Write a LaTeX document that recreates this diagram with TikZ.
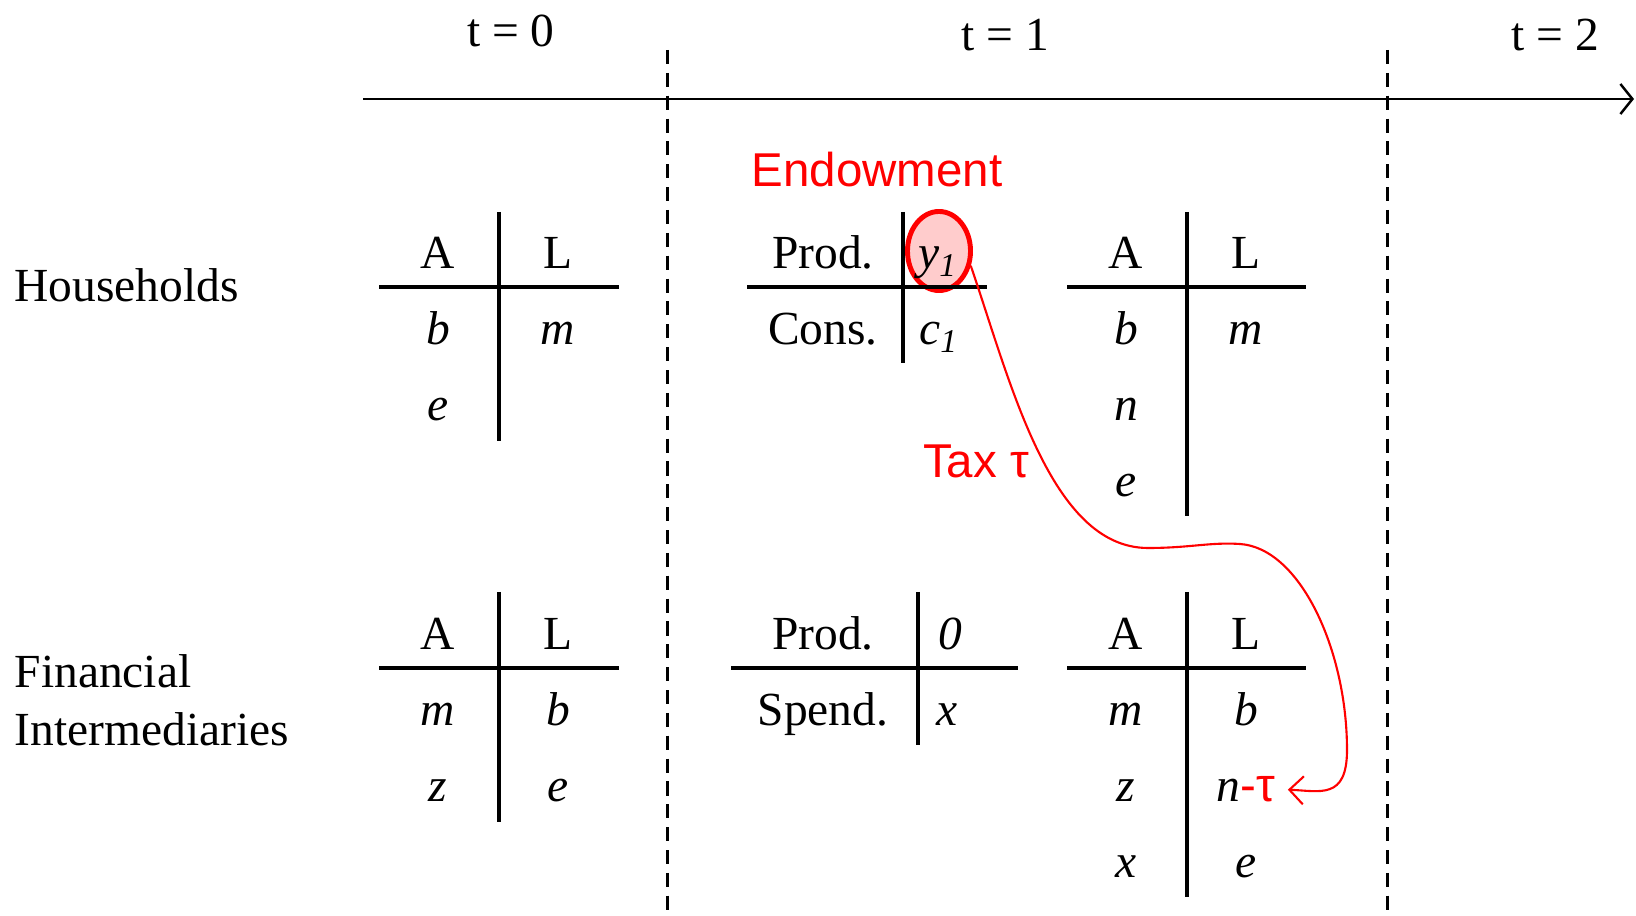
\documentclass[tikz,border=0pt]{standalone}
\usepackage{fontspec}
\setmainfont{Liberation Serif}
\newfontfamily\arialfont{Liberation Sans}
\usepackage{tikz}
\usetikzlibrary{positioning,arrows.meta,shapes.geometric}
\newcommand{\vv}[1]{\textit{#1}}

\begin{document}
\begin{tikzpicture}[x=0.01cm, y=-0.01cm,
  font=\fontsize{13.5}{16}\selectfont,
  cell/.style={anchor=base, inner sep=0pt},
  rule/.style={line width=0.9pt},
  sep/.style={dashed, dash pattern=on 4pt off 2.5pt, line width=0.85pt},
  redlbl/.style={anchor=base, inner sep=0pt, text=red, font=\arialfont\fontsize{13.5}{16}\selectfont},
  arr/.style={-{Straight Barb[length=1.4mm,width=2.8mm]}, red, line width=0.6pt}]
  \useasboundingbox (0,0) rectangle (1636,916);

  % time axis
  \coordinate (ax0) at (363,99);
  \coordinate (ax1) at (1634,99);
  \draw[line width=0.7pt, -{Straight Barb[length=1.2mm,width=3mm]}] (ax0) -- (ax1);
  \draw[sep] (667,50) -- (667,916);
  \draw[sep] (1387,50) -- (1387,916);
  \node[cell] (t0) at (511,47) {t = 0};
  \node[cell] (t1) at (1005,51) {t = 1};
  \node[cell] (t2) at (1555,51) {t = 2};

  % sectors
  \node[cell, anchor=base west] (hh) at (14,302) {Households};
  \node[cell, anchor=base west] (fi) at (14,688) {Financial};
  \node[cell, anchor=base west] (fi2) at (14,746) {Intermediaries};

  % households, t=0
  \draw[rule] (379,287) -- (619,287);
  \draw[rule] (499,212) -- (499,441);
  \node[cell] (hA0) at (438,269) {A};
  \node[cell] (hL0) at (558,269) {L};
  \node[cell] (hb0) at (438,345) {\vv{b}};
  \node[cell] (hm0) at (558,345) {\vv{m}};
  \node[cell] (he0) at (438,421) {\vv{e}};

  % intermediaries, t=0
  \draw[rule] (379,668) -- (619,668);
  \draw[rule] (499,592) -- (499,822);
  \node[cell] (fA0) at (438,650) {A};
  \node[cell] (fL0) at (558,650) {L};
  \node[cell] (fm0) at (438,726) {\vv{m}};
  \node[cell] (fb0) at (558,726) {\vv{b}};
  \node[cell] (fz0) at (438,802) {\vv{z}};
  \node[cell] (fe0) at (558,802) {\vv{e}};

  % households, t=1: production
  \node[ellipse, draw=red, line width=1.4pt, fill=red!20, minimum width=0.63cm, minimum height=0.79cm, inner sep=0pt] (endw) at (939,251) {};
  \draw[rule] (747,287) -- (987,287);
  \draw[rule] (903,212) -- (903,363);
  \node[cell] (hprod) at (823,269) {Prod.};
  \node[cell] (hcons) at (823,345) {Cons.};
  \node[cell] (hy) at (938,269) {\vv{y}\textsubscript{\vv{1}}};
  \node[cell] (hc) at (939,345) {\vv{c}\textsubscript{\vv{1}}};
  \node[redlbl] (endlbl) at (877,187) {Endowment};

  % households, t=1: balance sheet
  \draw[rule] (1067,287) -- (1306,287);
  \draw[rule] (1187,212) -- (1187,516);
  \node[cell] (hA1) at (1126,269) {A};
  \node[cell] (hL1) at (1246,269) {L};
  \node[cell] (hb1) at (1126,345) {\vv{b}};
  \node[cell] (hm1) at (1246,345) {\vv{m}};
  \node[cell] (hn1) at (1126,421) {\vv{n}};
  \node[cell] (he1) at (1126,497) {\vv{e}};

  % intermediaries, t=1: production
  \draw[rule] (731,668) -- (1018,668);
  \draw[rule] (918,592) -- (918,745);
  \node[cell] (fprod) at (823,650) {Prod.};
  \node[cell] (fspend) at (823,726) {Spend.};
  \node[cell] (fzero) at (950,650) {\vv{0}};
  \node[cell] (fx) at (947,726) {\vv{x}};

  % intermediaries, t=1: balance sheet
  \draw[rule] (1067,668) -- (1306,668);
  \draw[rule] (1187,592) -- (1187,897);
  \node[cell] (fA1) at (1126,650) {A};
  \node[cell] (fL1) at (1246,650) {L};
  \node[cell] (fm1) at (1126,726) {\vv{m}};
  \node[cell] (fb1) at (1246,726) {\vv{b}};
  \node[cell] (fz1) at (1126,802) {\vv{z}};
  \node[cell] (ntau) at (1246,802) {\vv{n}\textcolor{red}{\arialfont-τ}};
  \node[cell] (fx1) at (1126,878) {\vv{x}};
  \node[cell] (fe1) at (1246,878) {\vv{e}};

  % tax
  \node[redlbl] (tax) at (976,478) {Tax τ};
  \draw[arr] (endw.-25) .. controls (1010,380) and (1050,548) .. (1148,548)
    .. controls (1190,548) and (1210,542) .. (1240,544)
    .. controls (1300,548) and (1347,650) .. (1347,750)
    .. controls (1347,800) and (1320,791) .. ([xshift=1.2mm]ntau.east);
\end{tikzpicture}
\end{document}
